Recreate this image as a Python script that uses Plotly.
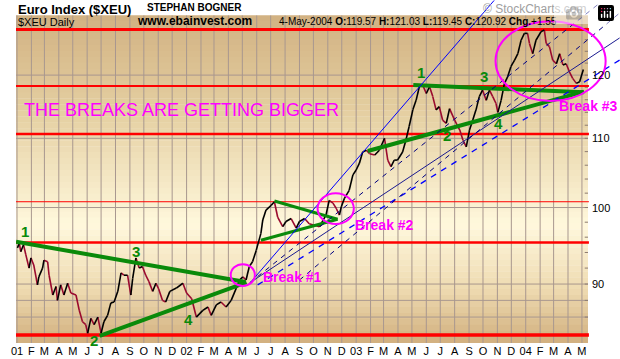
import plotly.graph_objects as go
import pandas as pd
import numpy as np

# ---------------- data ----------------
price_dates = [
    "2001-01-02", "2001-01-06", "2001-01-09", "2001-01-15", "2001-01-20", "2001-01-27", "2001-01-31", "2001-02-06", "2001-02-14", "2001-02-17",
    "2001-02-25", "2001-02-28", "2001-03-08", "2001-03-11", "2001-03-19", "2001-03-26", "2001-03-29", "2001-04-05", "2001-04-12", "2001-04-20",
    "2001-04-27", "2001-05-08", "2001-05-15", "2001-05-22", "2001-05-29", "2001-06-02", "2001-06-09", "2001-06-16", "2001-06-24", "2001-07-01",
    "2001-07-07", "2001-07-15", "2001-07-22", "2001-07-29", "2001-08-06", "2001-08-13", "2001-08-19", "2001-08-27", "2001-09-03", "2001-09-07",
    "2001-09-14", "2001-09-21", "2001-09-28", "2001-10-05", "2001-10-12", "2001-10-20", "2001-10-27", "2001-11-02", "2001-11-10", "2001-11-17",
    "2001-11-26", "2001-12-10", "2001-12-24", "2002-01-01", "2002-01-12", "2002-01-22", "2002-02-05", "2002-02-16", "2002-02-23", "2002-03-06",
    "2002-03-16", "2002-03-27", "2002-04-07", "2002-04-18", "2002-04-25", "2002-05-02", "2002-05-09", "2002-05-16", "2002-05-23", "2002-05-31",
    "2002-06-10", "2002-06-14", "2002-06-21", "2002-07-02", "2002-07-09", "2002-07-16", "2002-07-27", "2002-08-03", "2002-08-14", "2002-08-25",
    "2002-09-01", "2002-09-12", "2002-09-22", "2002-10-14", "2002-10-28", "2002-11-04", "2002-11-12", "2002-11-19", "2002-11-26", "2002-11-30",
    "2002-12-07", "2002-12-17", "2002-12-25", "2003-01-01", "2003-01-08", "2003-01-15", "2003-01-23", "2003-01-30", "2003-02-10", "2003-02-20",
    "2003-03-03", "2003-03-10", "2003-03-17", "2003-03-24", "2003-03-31", "2003-04-11", "2003-04-18", "2003-04-25", "2003-05-03", "2003-05-10",
    "2003-05-17", "2003-05-24", "2003-06-01", "2003-06-08", "2003-06-15", "2003-06-22", "2003-06-29", "2003-07-06", "2003-07-14", "2003-07-21",
    "2003-08-01", "2003-08-12", "2003-08-19", "2003-08-26", "2003-09-02", "2003-09-09", "2003-09-16", "2003-09-23", "2003-09-30", "2003-10-08",
    "2003-10-15", "2003-10-22", "2003-10-29", "2003-11-02", "2003-11-09", "2003-11-16", "2003-11-23", "2003-11-30", "2003-12-08", "2003-12-15",
    "2003-12-22", "2003-12-29", "2004-01-05", "2004-01-09", "2004-01-16", "2004-01-23", "2004-02-03", "2004-02-10", "2004-02-14", "2004-02-21",
    "2004-02-28", "2004-03-07", "2004-03-14", "2004-03-21", "2004-03-28", "2004-04-04", "2004-04-11", "2004-04-19", "2004-04-26", "2004-05-04",
]
price_close = [
    94.6, 95.2, 94.1, 95.0, 93.7, 92.0, 93.3, 92.4, 89.9, 90.9,
    92.0, 93.0, 92.8, 91.1, 88.65, 89.7, 88.0, 89.9, 88.65, 90.1,
    88.9, 88.65, 86.8, 85.45, 85.1, 84.1, 85.85, 85.1, 86.0, 84.1,
    85.45, 86.2, 87.7, 87.8, 89.1, 91.4, 91.1, 91.1, 88.65, 90.7,
    93.3, 92.0, 92.2, 91.1, 90.3, 89.1, 90.1, 89.4, 88.0, 87.8,
    89.1, 89.5, 90.1, 88.9, 88.2, 86.0, 86.8, 87.2, 86.2, 87.45,
    87.8, 87.2, 88.0, 89.5, 90.5, 90.9, 90.5, 92.2, 92.8, 94.3,
    96.5, 98.3, 99.65, 100.3, 100.8, 98.7, 97.4, 98.1, 98.5, 97.2,
    98.1, 98.5, 97.8, 97.4, 98.97, 101.0, 100.6, 99.9, 98.97, 100.1,
    101.3, 102.4, 104.6, 105.3, 106.3, 107.95, 108.2, 107.7, 107.5, 108.2,
    110.0, 106.75, 105.8, 106.75, 106.75, 107.95, 109.7, 111.8, 114.4, 115.9,
    118.1, 118.4, 117.0, 118.1, 116.5, 114.4, 114.9, 112.8, 112.3, 114.6,
    112.8, 111.25, 109.7, 108.7, 111.25, 112.8, 114.4, 116.5, 117.55, 115.9,
    117.55, 116.5, 115.4, 114.0, 115.9, 118.6, 119.7, 121.4, 122.5, 123.6,
    125.9, 127.1, 127.1, 125.35, 123.6, 125.9, 127.4, 127.7, 125.35, 124.8,
    122.5, 121.9, 123.6, 121.7, 121.9, 120.55, 119.46, 118.64, 118.9, 120.92,
]

tick_labels = ["01", "F", "M", "A", "M", "J", "J", "A", "S", "O", "N", "D",
               "02", "F", "M", "A", "M", "J", "J", "A", "S", "O", "N", "D",
               "03", "F", "M", "A", "M", "J", "J", "A", "S", "O", "N", "D",
               "04", "F", "M", "A", "M"]
price_labels = [90, 100, 110, 120]
grid_prices = [86, 88, 90, 100, 110, 120]
minor_tick_prices = [84, 86, 88, 90, 92, 94, 96, 98, 100, 102, 104, 106, 108, 110,
                     112, 114, 116, 118, 120, 122, 124, 126, 128]

red_levels = [127.8, 118.2, 110.65, 100.8, 95.3, 83.9]

green_start_dates = ["2000-12-30", "2001-06-28", "2002-07-09", "2002-06-10", "2003-01-26", "2003-05-04"]
green_start_prices = [95.4, 83.8, 100.9, 95.6, 108.1, 118.36]
green_end_dates = ["2002-05-08", "2002-05-10", "2002-11-22", "2002-11-22", "2004-05-05", "2004-05-05"]
green_end_prices = [90.25, 90.2, 98.4, 98.4, 117.3, 117.2]

blue_start_dates = ["2002-05-14", "2002-05-17", "2002-05-17", "2002-06-03", "2002-09-01"]
blue_start_prices = [89.9, 90.15, 90.15, 89.9, 90.5]
blue_end_dates = ["2003-10-25", "2004-06-08", "2004-07-21", "2004-07-21", "2004-07-21"]
blue_end_prices = [133.0, 132.5, 126.3, 122.5, 130.7]

circle_x0 = ["2002-04-06", "2002-10-10", "2003-10-28"]
circle_x1 = ["2002-05-28", "2002-12-27", "2004-06-21"]
circle_y0 = [89.76, 97.75, 115.8]
circle_y1 = [92.5, 102.0, 129.26]

# ---------------- geometry / styles ----------------
W, H = 620, 359
ML, MB = 16, 16
PW, PH = W - ML, H - MB
x_range = ["2000-12-29 20:24", "2004-07-21 21:36"]
y_range = [1.91899, 2.12410]
panel_end = "2004-05-14"
panel_top_px = 15.5

FONT = "Liberation Sans, Arial, sans-serif"
GRID = "#a8978f"
RED = "#ff0000"
GREEN = "#0a8a0a"
MAG = "#ff00ff"


def pxx(px):
    return (px - ML) / PW


def pyy(py):
    return 1 - py / PH


panel_top_price = 10 ** (y_range[1] - panel_top_px / PH * (y_range[1] - y_range[0]))
panel_bottom_price = 10 ** y_range[0]

fig = go.Figure()

# background gradient (tan -> cream -> tan)
stops = [(15, (209, 177, 130)), (110, (228, 206, 160)), (225, (255, 248, 220)),
         (290, (238, 218, 176)), (343, (209, 175, 126))]


def col_at(p):
    for (a, ca), (b, cb) in zip(stops[:-1], stops[1:]):
        if a <= p <= b:
            t = (p - a) / (b - a)
            return "rgb(%d,%d,%d)" % tuple(round(ca[i] + (cb[i] - ca[i]) * t) for i in range(3))
    return "rgb(%d,%d,%d)" % stops[-1][1]


shapes = []
edges = np.linspace(panel_top_px, PH, 56)
for a, b in zip(edges[:-1], edges[1:]):
    shapes.append(dict(type="rect", xref="x", yref="paper", x0=x_range[0], x1=panel_end,
                       y0=pyy(b), y1=pyy(a) + 0.001, fillcolor=col_at((a + b) / 2),
                       line=dict(width=0), layer="below"))

# grid lines
month_dates = pd.date_range("2001-01-01", periods=len(tick_labels), freq="MS")
gx, gy = [], []
for d in month_dates:
    gx += [d, d, None]
    gy += [panel_bottom_price, panel_top_price, None]
for p in grid_prices:
    gx += [pd.Timestamp(x_range[0]), pd.Timestamp(panel_end), None]
    gy += [p, p, None]
fig.add_trace(go.Scatter(x=gx, y=gy, mode="lines", line=dict(color=GRID, width=1),
                         hoverinfo="skip", showlegend=False))

# short price ticks on the right edge of the panel
tx, ty = [], []
pe = pd.Timestamp(panel_end)
for p in minor_tick_prices:
    tx += [pe - pd.Timedelta(days=7), pe, None]
    ty += [p, p, None]
fig.add_trace(go.Scatter(x=tx, y=ty, mode="lines", line=dict(color="#8c7a70", width=1),
                         hoverinfo="skip", showlegend=False))

# red horizontal levels
red_widths = [3, 2, 2.5, 1, 2.5, 3.5]
for lvl, w in zip(red_levels, red_widths):
    fig.add_trace(go.Scatter(x=[x_range[0], "2004-05-16"], y=[lvl, lvl], mode="lines",
                             line=dict(color=RED, width=w), hoverinfo="skip", showlegend=False))

# price path: up moves black, down moves maroon
ux, uy, dx, dy = [], [], [], []
for i in range(1, len(price_close)):
    seg_x = [price_dates[i - 1], price_dates[i], None]
    seg_y = [price_close[i - 1], price_close[i], None]
    if price_close[i] >= price_close[i - 1]:
        ux += seg_x; uy += seg_y
    else:
        dx += seg_x; dy += seg_y
fig.add_trace(go.Scatter(x=dx, y=dy, mode="lines", line=dict(color="#9a0a2e", width=1.6),
                         hoverinfo="skip", showlegend=False))
fig.add_trace(go.Scatter(x=ux, y=uy, mode="lines", line=dict(color="#000000", width=1.6),
                         hoverinfo="skip", showlegend=False))

# green trend lines
green_widths = [4, 4, 3, 3, 4, 4]
for sd, sp, ed, ep, w in zip(green_start_dates, green_start_prices, green_end_dates, green_end_prices, green_widths):
    fig.add_trace(go.Scatter(x=[sd, ed], y=[sp, ep], mode="lines",
                             line=dict(color=GREEN, width=w), hoverinfo="skip", showlegend=False))

# blue fan lines
blue_styles = [("#0000ff", "solid", 1), ("#000080", "5px,5px", 1),
               ("#1a1a90", "solid", 1), ("#0000ff", "6px,6px", 1.3),
               ("#000080", "5px,5px", 1)]
for sd, sp, ed, ep, (c, dsh, w) in zip(blue_start_dates, blue_start_prices, blue_end_dates, blue_end_prices, blue_styles):
    fig.add_trace(go.Scatter(x=[sd, ed], y=[sp, ep], mode="lines",
                             line=dict(color=c, width=w, dash=dsh), hoverinfo="skip", showlegend=False))

# magenta circles
for a, b, c0, c1 in zip(circle_x0, circle_x1, circle_y0, circle_y1):
    shapes.append(dict(type="circle", xref="x", yref="y", x0=a, x1=b, y0=c0, y1=c1,
                       line=dict(color=MAG, width=2), layer="above"))

ann = []


def text(s, x, y, size, color="black", bold=False, anchor="left"):
    ann.append(dict(text=("<b>%s</b>" % s) if bold else s, xref="paper", yref="paper",
                    x=pxx(x), y=pyy(y), xanchor=anchor, yanchor="middle", showarrow=False,
                    font=dict(family=FONT, size=size, color=color)))


text("Euro Index ($XEU)", 16, 9, 13, bold=True)
text("STEPHAN BOGNER", 145, 7.5, 10, bold=True)
text("© StockCharts.com", 481, 9, 12, color="#a0a0a0")
text("$XEU Daily", 16, 22, 11)
text("www.ebainvest.com", 135, 21, 12, bold=True)
text("4-May-2004 <b>O:</b>119.57 <b>H:</b>121.03 <b>L:</b>119.45 <b>C:</b>120.92 <b>Chg.</b>+1.55",
     277, 22, 10)

text("THE BREAKS ARE GETTING BIGGER", 22, 110, 18, color=MAG)
text("Break #1", 261, 277, 14, color=MAG, bold=True)
text("Break #2", 353, 225, 14, color=MAG, bold=True)
text("Break #3", 557, 106, 14, color=MAG, bold=True)

for s, x, y in [("1", 25, 231), ("2", 94, 340), ("3", 136, 251), ("4", 188, 319),
                ("1", 421, 72), ("2", 447, 135), ("3", 484, 76), ("4", 498, 123)]:
    text(s, x, y, 15, color=GREEN, bold=True, anchor="center")

for v in price_labels:
    ann.append(dict(text=str(v), xref="x", yref="y", x=panel_end, y=np.log10(v),
                    xanchor="left", yanchor="middle", xshift=2, showarrow=False,
                    font=dict(family=FONT, size=11, color="black")))

fig.update_layout(
    width=W, height=H, margin=dict(l=ML, r=0, t=0, b=MB),
    paper_bgcolor="white", plot_bgcolor="white",
    shapes=shapes, annotations=ann, showlegend=False,
    xaxis=dict(type="date", range=x_range, tickvals=month_dates, ticktext=tick_labels,
               tickangle=0, showgrid=False, zeroline=False, ticks="", showline=False,
               tickfont=dict(family=FONT, size=11, color="black"), fixedrange=True),
    yaxis=dict(type="log", range=y_range, visible=False, fixedrange=True),
)

fig.write_html("out.html", post_script="document.body.style.margin='0';")
